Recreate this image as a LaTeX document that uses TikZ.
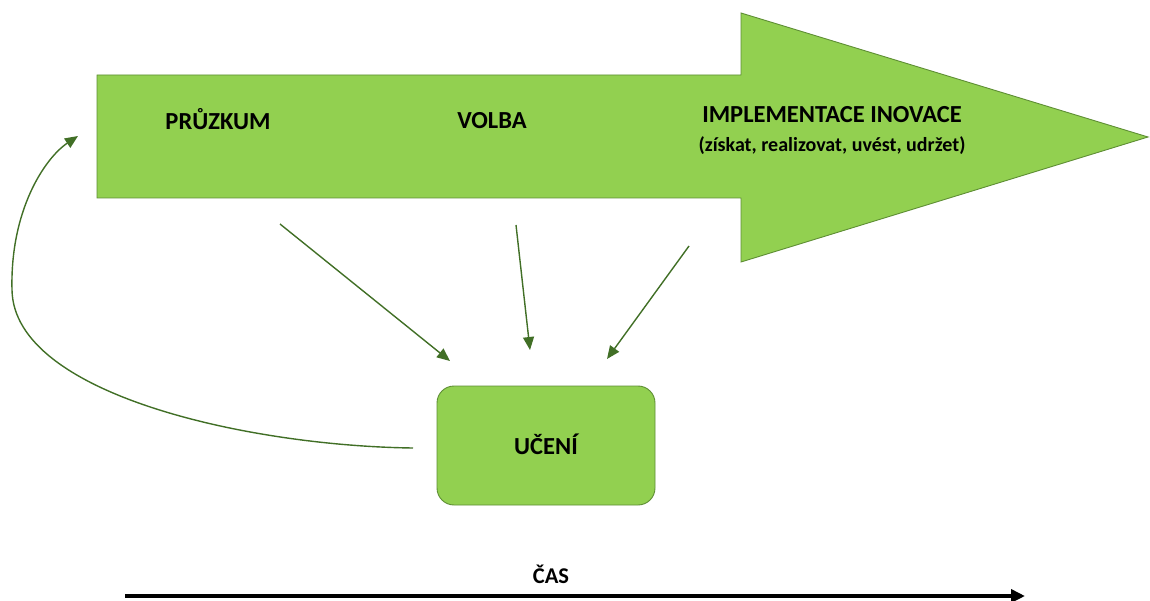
\documentclass[tikz,border=0pt]{standalone}
\usepackage{fontspec}
\setmainfont{Carlito}
\usetikzlibrary{arrows.meta}
\definecolor{lgreen}{HTML}{92D050}
\definecolor{bgreen}{HTML}{5E8E34}
\definecolor{agreen}{HTML}{416F26}
\begin{document}
\begin{tikzpicture}[x=1pt,y=-1pt,
  lbl/.style={font=\fontsize{24.5}{28}\selectfont\bfseries, inner sep=0pt, anchor=base},
  sublbl/.style={font=\fontsize{20}{24}\selectfont\bfseries, inner sep=0pt, anchor=base},
  conn/.style={draw=agreen, line width=1.4pt, -{Triangle[length=13pt,width=11pt]}},
  shapefill/.style={fill=lgreen, draw=bgreen, line width=0.9pt},
  timeline/.style={draw=black, line width=3.8pt, -{Triangle[length=14pt,width=13pt]}}]
\useasboundingbox (0,0) rectangle (1150,601);
% big arrow
\path[shapefill] (97,75) -- (741,75) -- (741,13) -- (1148,137) -- (741,262) -- (741,198) -- (97,198) -- cycle;
\node[lbl] (pruzkum) at (218,130) {PRŮZKUM};
\node[lbl] (volba) at (492,129) {VOLBA};
\node[lbl] (impl) at (832,123) {IMPLEMENTACE INOVACE};
\node[sublbl] (impsub) at (832,152) {(získat, realizovat, uvést, udržet)};
% learning box
\node[shapefill, rounded corners=17pt, minimum width=218pt, minimum height=119pt, inner sep=0pt] (uceni) at (546,445.5) {};
\node[lbl] (ucenitxt) at (546,454) {UČENÍ};
% connectors
\coordinate (s1) at (280,224);
\coordinate (e1) at (450,361);
\coordinate (s2) at (516,225);
\coordinate (e2) at (530,350);
\coordinate (s3) at (689,246);
\coordinate (e3) at (607,359);
\draw[conn] (s1) -- (e1);
\draw[conn] (s2) -- (e2);
\draw[conn] (s3) -- (e3);
\coordinate (cs) at (413,448);
\coordinate (cm) at (12,290);
\coordinate (ce) at (78,136);
\draw[conn] (cs) .. controls (250,446) and (14,395) .. (cm) .. controls (10,210) and (45,158) .. (ce);
% time axis
\node[font=\fontsize{22.5}{26}\selectfont\bfseries, inner sep=0pt, anchor=base] (cas) at (551,583) {ČAS};
\coordinate (t0) at (125,596);
\coordinate (t1) at (1025,596);
\draw[timeline] (t0) -- (t1);
\end{tikzpicture}
\end{document}
